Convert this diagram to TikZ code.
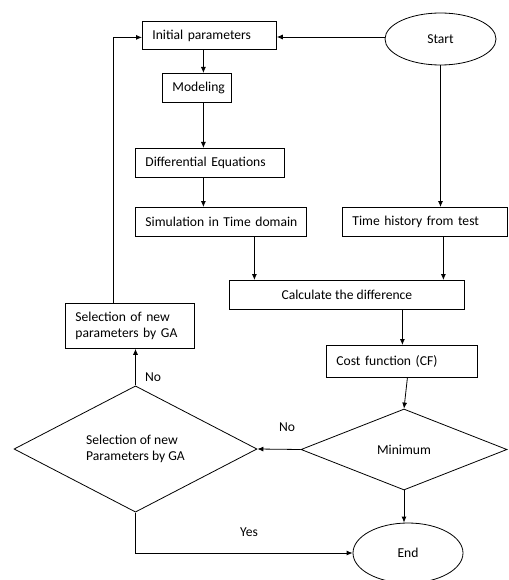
\documentclass[tikz,border=0pt]{standalone}
\usepackage{fontspec}
\setmainfont{Carlito}
\usetikzlibrary{arrows.meta,shapes.geometric}
\tikzset{
  fnt/.style={font=\fontsize{13.6}{16}\selectfont},
  box/.style={draw, line width=0.8pt, rectangle, anchor=north west, inner xsep=10pt, inner ysep=0pt, align=left, fnt},
  cbox/.style={draw, line width=0.8pt, rectangle, anchor=north west, inner sep=0pt, align=center, fnt},
  oval/.style={draw, line width=0.8pt, ellipse, inner sep=0pt, fnt},
  dia/.style={draw, line width=0.8pt, diamond, inner sep=0pt, align=left, fnt},
  lbl/.style={fnt, inner sep=0pt},
  arr/.style={line width=0.8pt, -{Latex[length=6pt,width=5pt]}},
}
\begin{document}
\begin{tikzpicture}[x=1pt,y=-1pt]
\useasboundingbox (0,0) rectangle (508,580);
\node[box, minimum width=134pt, minimum height=28pt, text width=114pt] (ip) at (142,21) {\mbox{Initial parameters}};
\node[box, minimum width=69pt, minimum height=29pt, text width=49pt] (mod) at (162,73) {\mbox{Modeling}};
\node[box, minimum width=149pt, minimum height=29pt, text width=129pt] (de) at (135,148) {\mbox{Differential Equations}};
\node[box, minimum width=171pt, minimum height=29pt, text width=151pt] (sim) at (135,207) {\mbox{Simulation in Time domain}};
\node[box, minimum width=165pt, minimum height=29pt, text width=145pt] (th) at (342,207) {\mbox{Time history from test}};
\node[cbox, minimum width=235pt, minimum height=29pt] (cd) at (229,280) {Calculate the difference};
\node[box, minimum width=129pt, minimum height=45pt, text width=109pt] (sel) at (65,303) {Selection of new\\parameters by GA};
\node[box, minimum width=151pt, minimum height=32pt, text width=131pt] (cf) at (326,345) {\mbox{Cost function (CF)}};
\node[dia, minimum width=206pt, minimum height=81pt] (min) at (404,449.5) {Minimum};
\node[dia, minimum width=243pt, minimum height=122pt] (ld) at (135.5,449) {Selection of new\\Parameters by GA};
\node[oval, minimum width=111pt, minimum height=52pt] (start) at (440.5,39) {Start};
\node[oval, minimum width=110pt, minimum height=60pt] (end) at (408,553) {End};

\draw[arr] ([yshift=2pt]start.west) -- ([yshift=2pt]start.west -| ip.east);
\draw[arr] (start.south) -- (start.south |- th.north);
\draw[arr] ([xshift=-6pt]ip.south) -- ([xshift=-6pt]ip.south |- mod.north);
\draw[arr] ([xshift=6.5pt]mod.south) -- ([xshift=6.5pt]mod.south |- de.north);
\draw[arr] ([xshift=-6.5pt]de.south) -- ([xshift=-6.5pt]de.south |- sim.north);
\draw[arr] ([xshift=33.5pt]sim.south) -- ([xshift=33.5pt]sim.south |- cd.north);
\draw[arr] ([xshift=18.5pt]th.south) -- ([xshift=18.5pt]th.south |- cd.north);
\draw[arr] ([xshift=55.5pt]cd.south) -- ([xshift=55.5pt]cd.south |- cf.north);
\draw[arr] ([xshift=5.5pt]cf.south) -- (min.north);
\draw[arr] (min.west) -- (ld.east);
\draw[arr] (min.south) -- (min.south |- end.north);
\draw[arr] (ld.north) -- (ld.north |- sel.south);
\draw[arr] (ld.south) |- (end.west);
\draw[arr] ([xshift=-16.5pt]sel.north) |- ([yshift=-2pt]ip.west);

\node[lbl] (no1) at (287,427) {No};
\node[lbl] (no2) at (153,377) {No};
\node[lbl] (yes) at (249,532) {Yes};
\end{tikzpicture}
\end{document}
